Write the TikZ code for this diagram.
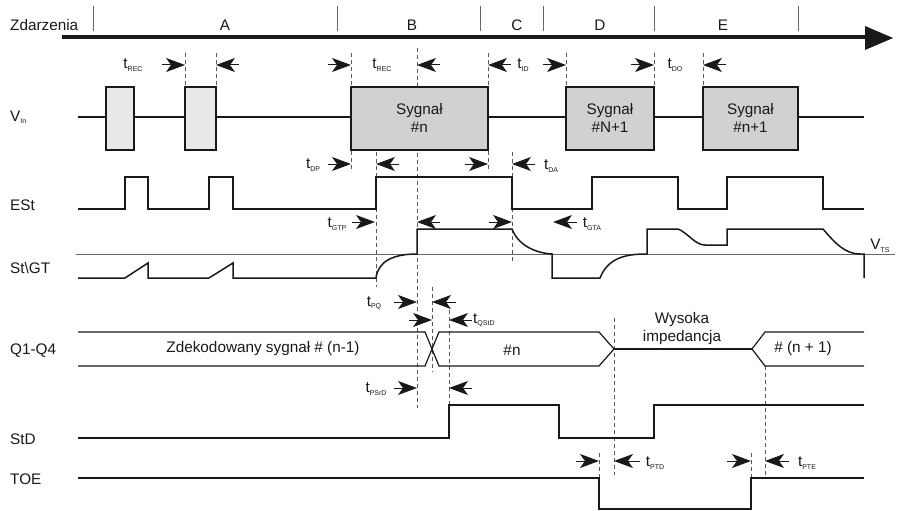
\documentclass[tikz,border=0pt]{standalone}
\usepackage{fontspec}
\setmainfont{Liberation Sans}
\usetikzlibrary{arrows.meta}
\newcommand\tl[2]{#1\raisebox{-2.5pt}{\fontsize{7}{8}\selectfont #2}}
\begin{document}
\begin{tikzpicture}[x=1pt,y=-1pt,
  sig/.style={line width=1.5pt, draw=black!90, line join=miter},
  dline/.style={dash pattern=on 4pt off 3pt, line width=0.7pt, draw=black!65},
  tick/.style={line width=0.9pt, draw=black!60},
  tarr/.style={-{Stealth[length=19pt,width=14pt,inset=5pt]}, line width=1pt, black!90},
  lbl/.style={font=\fontsize{15.3}{18}\selectfont, inner sep=0pt, text=black!90},
  boxa/.style={line width=1.5pt, draw=black!90, fill=black!9},
  boxb/.style={line width=1.5pt, draw=black!90, fill=black!18},
]
\useasboundingbox (0,0) rectangle (898,511);
\fill[white] (0,0) rectangle (898,511);

% ---- time axis
\draw[line width=4pt, black!90] (62,37) -- (866,37);
\fill[black!90] (865,26) -- (893,38) -- (865,50) -- cycle;
\foreach \x in {93,337,480,543,654,798} \draw[tick] (\x,6) -- (\x,31);
\node[lbl, anchor=west] (zd) at (10,25) {Zdarzenia};
\node[lbl] (eA) at (225,25) {A};
\node[lbl] (eB) at (412,25) {B};
\node[lbl] (eC) at (517,25) {C};
\node[lbl] (eD) at (600,25) {D};
\node[lbl] (eE) at (723,25) {E};

% ---- dashed guide lines
\draw[dline] (185,53) -- (185,87);
\draw[dline] (216,53) -- (216,87);
\draw[dline] (351,53) -- (351,172);
\draw[dline] (417,48) -- (417,408);
\draw[dline] (488,53) -- (488,172);
\draw[dline] (566,53) -- (566,87);
\draw[dline] (654,53) -- (654,87);
\draw[dline] (703,53) -- (703,87);
\draw[dline] (376,152) -- (376,287);
\draw[dline] (512,152) -- (512,262);
\draw[dline] (432,287) -- (432,372);
\draw[dline] (449,310) -- (449,405);
\draw[dline] (614,318) -- (614,475);
\draw[dline] (765,366) -- (765,475);
\draw[dline] (599,453) -- (599,478);
\draw[dline] (751,453) -- (751,478);

% ---- left labels
\node[lbl, anchor=west] (lvin) at (10,117) {\tl{V}{In}};
\node[lbl, anchor=west] (lest) at (10,205) {ESt};
\node[lbl, anchor=west] (lgt) at (10,268) {St\textbackslash GT};
\node[lbl, anchor=west] (lq) at (10,351) {Q1-Q4};
\node[lbl, anchor=west] (lstd) at (10,439) {StD};
\node[lbl, anchor=west] (ltoe) at (10,479) {TOE};

% ---- V_in
\draw[sig] (78,117) -- (864,117);
\draw[boxa] (106,87) rectangle (134,150);
\draw[boxa] (185,87) rectangle (216,150);
\draw[boxb] (351,87) rectangle (488,150);
\draw[boxb] (566,87) rectangle (654,150);
\draw[boxb] (703,87) rectangle (798,150);
\node[lbl, align=center] (s1) at (419.5,118) {Sygnał\\\#n};
\node[lbl, align=center] (s2) at (610,118) {Sygnał\\\#N+1};
\node[lbl, align=center] (s3) at (750.5,118) {Sygnał\\\#n+1};

% ---- t_REC etc. row
\draw[tarr] (162,65) -- (185,65);
\draw[tarr] (239,65) -- (216,65);
\draw[tarr] (328,65) -- (351,65);
\draw[tarr] (440,65) -- (417,65);
\draw[tarr] (511,65) -- (488,65);
\draw[tarr] (543,65) -- (566,65);
\draw[tarr] (631,65) -- (654,65);
\draw[tarr] (726,65) -- (703,65);
\node[lbl] (trec1) at (133,65) {\tl{t}{REC}};
\node[lbl] (trec2) at (382,65) {\tl{t}{REC}};
\node[lbl] (tid) at (523,65) {\tl{t}{ID}};
\node[lbl] (tdo) at (675,65) {\tl{t}{DO}};

% ---- t_DP row
\draw[tarr] (328,164) -- (351,164);
\draw[tarr] (399,164) -- (376,164);
\draw[tarr] (465,164) -- (488,164);
\draw[tarr] (535,164) -- (512,164);
\node[lbl] (tdp) at (313,165) {\tl{t}{DP}};
\node[lbl] (tda) at (551,166) {\tl{t}{DA}};

% ---- ESt
\draw[sig] (78,209) -- (125,209) -- (125,177) -- (148,177) -- (148,209)
  -- (209,209) -- (209,177) -- (233,177) -- (233,209) -- (376,209) -- (376,177)
  -- (512,177) -- (512,209) -- (592,209) -- (592,177) -- (678,177) -- (678,209)
  -- (727,209) -- (727,177) -- (823,177) -- (823,209) -- (864,209);

% ---- GT arrows
\draw[tarr] (352,222) -- (375,222);
\draw[tarr] (440,222) -- (417,222);
\draw[tarr] (489,222) -- (512,222);
\draw[tarr] (577,222) -- (553,222);
\node[lbl] (tgtp) at (337,224) {\tl{t}{GTP}};
\node[lbl] (tgta) at (592,224) {\tl{t}{GTA}};

% ---- St\GT
\draw[line width=0.7pt, black!60] (76,254) -- (895,254);
\node[lbl] (vts) at (880,246) {\tl{V}{TS}};
\draw[sig] (78,278) -- (125,278) -- (148,263) -- (148,278) -- (209,278) -- (233,263)
  -- (233,278) -- (376,278) .. controls (378,262) and (392,254) .. (417,254)
  -- (417,229) -- (512,229) .. controls (518,245) and (535,253) .. (552,254)
  -- (552,278) -- (600,278) .. controls (608,258) and (625,254) .. (647,254)
  -- (647,229) -- (678,229) .. controls (688,233) and (695,245) .. (705,245)
  -- (727,245) -- (727,229) -- (823,229) .. controls (835,243) and (845,254) .. (860,254)
  -- (864,254) -- (864,278);

% ---- Q arrows
\draw[tarr] (394,302) -- (417,302);
\draw[tarr] (456,302) -- (432,302);
\node[lbl] (tpq) at (374,303) {\tl{t}{PQ}};
\draw[tarr] (409,320) -- (432,320);
\draw[tarr] (472,320) -- (449,320);
\node[lbl, anchor=west] (tqstd) at (473,320) {\tl{t}{QStD}};

% ---- Q1-Q4 bus
\draw[line width=1.2pt, black!90] (78,332) -- (425,332) -- (439,366) -- (599,366) -- (614,349);
\draw[line width=1.2pt, black!90] (78,366) -- (425,366) -- (439,332) -- (599,332) -- (614,349);
\draw[line width=2pt, black!90] (614,349) -- (752,349);
\draw[line width=1.2pt, black!90] (864,332) -- (765,332) -- (752,349) -- (765,366) -- (864,366);
\node[lbl] (qa) at (263,349) {Zdekodowany sygnał \# (n-1)};
\node[lbl] (qb) at (512,350) {\#n};
\node[lbl, align=center] (qc) at (682,329) {Wysoka\\impedancja};
\node[lbl] (qd) at (803,349) {\# (n + 1)};

% ---- PSrD arrows
\draw[tarr] (394,388) -- (417,388);
\draw[tarr] (472,388) -- (449,388);
\node[lbl] (tpsrd) at (376,389) {\tl{t}{PSrD}};

% ---- StD
\draw[sig] (78,438) -- (449,438) -- (449,405) -- (559,405) -- (559,438) -- (654,438)
  -- (654,405) -- (864,405);

% ---- TOE arrows
\draw[tarr] (576,461) -- (599,461);
\draw[tarr] (640,461) -- (614,461);
\draw[tarr] (727,461) -- (751,461);
\draw[tarr] (789,461) -- (765,461);
\node[lbl] (tptd) at (655,463) {\tl{t}{PTD}};
\node[lbl] (tpte) at (807,463) {\tl{t}{PTE}};

% ---- TOE
\draw[sig] (78,478) -- (599,478) -- (599,509) -- (751,509) -- (751,478) -- (864,478);
\end{tikzpicture}
\end{document}
